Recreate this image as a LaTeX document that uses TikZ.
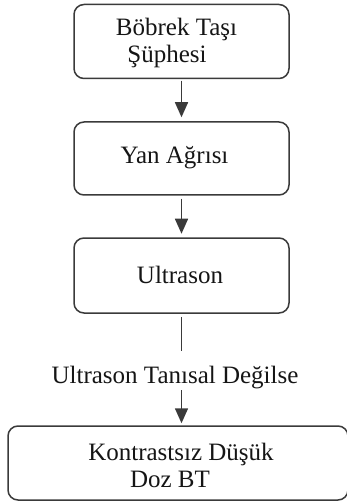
\documentclass[tikz,border=0pt]{standalone}
\usepackage{fontspec}
\setmainfont{Liberation Serif}
\usetikzlibrary{arrows.meta}
\definecolor{linec}{HTML}{3A3A3A}
\definecolor{textc}{HTML}{151515}
\tikzset{
  box/.style={draw=linec, line width=1.5pt, rounded corners=10pt, minimum width=215pt, inner sep=0pt},
  txt/.style={text=textc, inner sep=0pt, align=center, font=\fontsize{25}{27}\selectfont},
  conn/.style={draw=linec, line width=1.5pt},
  arr/.style={conn, -{Triangle[width=13pt,length=15pt]}}
}
\begin{document}
\begin{tikzpicture}[x=1pt,y=-1pt]
\useasboundingbox (0,0) rectangle (346,502);
\node[box, minimum height=74pt] (b1) at (181.5,41.5) {};
\node[box, minimum height=73pt] (b2) at (181.5,158.5) {};
\node[box, minimum height=75pt] (b3) at (181.5,275.5) {};
\node[box, minimum height=74pt, minimum width=340pt] (b4) at (178,463) {};
\node[txt] (t1) at (176.5,43.2) {Böbrek Taşı\\Şüphesi\hspace*{19pt}};
\node[txt, anchor=base] (t2) at (174.5,164) {Yan Ağrısı};
\node[txt, anchor=base] (t3) at (180,283) {Ultrason};
\node[txt] (t4) at (181,465.5) {Kontrastsız Düşük\\Doz BT\hspace*{22pt}};
\node[txt, anchor=base] (lab) at (175,383) {Ultrason Tanısal Değilse};
\coordinate (labin) at (181.5,390);
\draw[arr, shorten <=1.5pt, shorten >=4pt] (b1.south) -- (b2.north);
\draw[arr, shorten <=3pt, shorten >=3.5pt] (b2.south) -- (b3.north);
\draw[conn, shorten <=3pt, shorten >=14pt] (b3.south) -- (b3.south |- lab.north);
\draw[arr, shorten >=2pt] (labin) -- (labin |- b4.north);
\end{tikzpicture}
\end{document}
